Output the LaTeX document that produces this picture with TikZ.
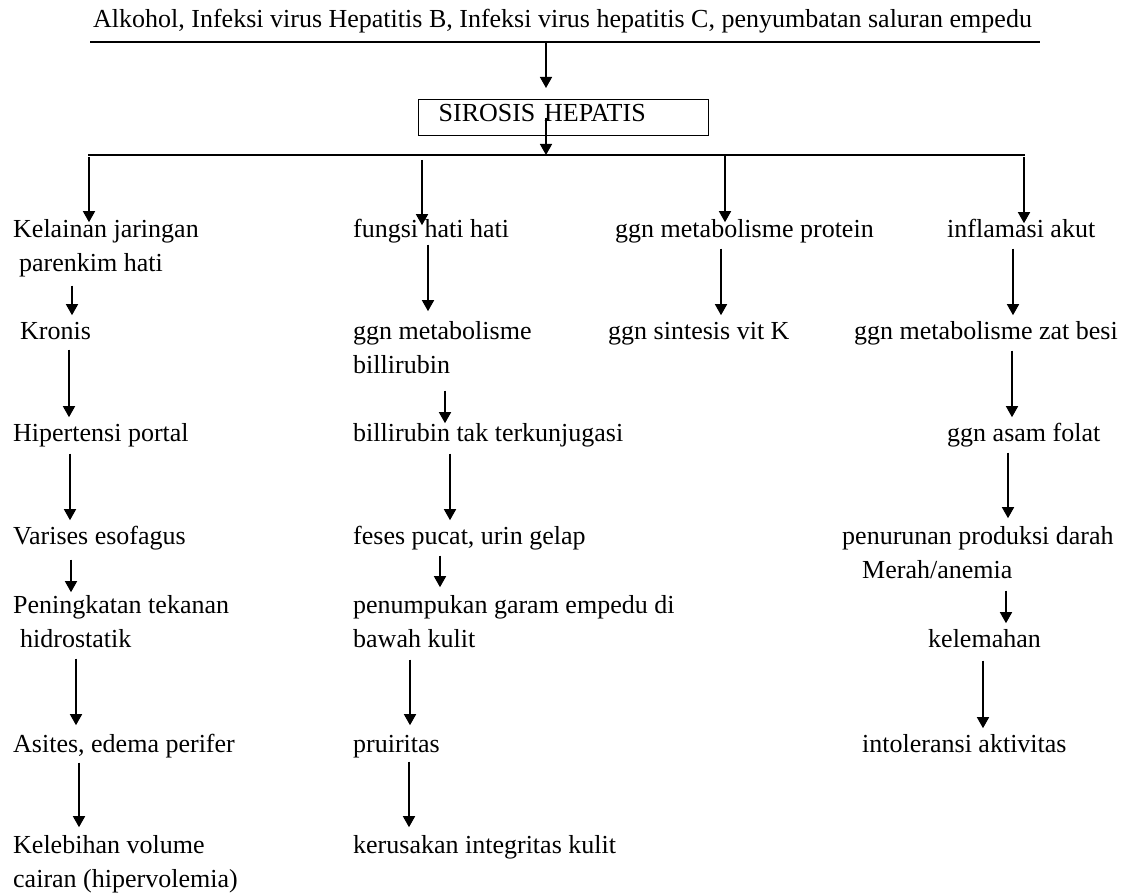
\documentclass[tikz,border=0pt]{standalone}
\usepackage{fontspec}
\setmainfont{Liberation Serif}
\usetikzlibrary{arrows.meta}

\begin{document}
\begin{tikzpicture}[x=1pt,y=-1pt,
    teks/.style={anchor=north west,yshift=23.8pt,inner sep=0pt,align=left,
      font=\fontsize{26}{34}\selectfont,execute at begin node=\strut,execute at end node=\strut},
    panah/.style={-{Triangle[length=11pt,width=12pt]},line width=1.5pt},
    garis/.style={line width=2pt}]
            \useasboundingbox (0,0) rectangle (1125,896);

            \node[teks] (sebab) at (93,27) {Alkohol, Infeksi virus Hepatitis B, Infeksi virus hepatitis C, penyumbatan saluran empedu};
            \coordinate (atasL) at (90,42);
            \coordinate (atasR) at (1040,42);
            \draw[garis] (atasL)--(atasR);

            \node[draw,line width=1.3pt,anchor=north west,minimum width=290pt,minimum height=36pt,
              text width=250pt,inner xsep=20pt,inner ysep=0pt,text height=16pt,text depth=8pt,
              align=left,font=\fontsize{26}{34}\selectfont] (sirosis) at (418,99) {SIROSIS HEPATIS};
            \draw[panah] (atasL -| 546,0)--([yshift=11pt]sirosis.north -| 546,0);

            \coordinate (bawahL) at (88,155);
            \coordinate (bawahR) at (1025,155);
            \draw[garis] (bawahL)--(bawahR);
            \draw[panah] (sirosis.center -| 546,0)--(bawahL -| 546,0);

            \node[teks] (k1) at (13,237) {\strut Kelainan jaringan\\\hspace*{6pt}parenkim hati\strut};
            \node[teks] (k2) at (20,339) {Kronis};
            \node[teks] (k3) at (13,441) {Hipertensi portal};
            \node[teks] (k4) at (13,544) {Varises esofagus};
            \node[teks] (k5) at (13,613) {\strut Peningkatan tekanan\\\hspace*{7pt}hidrostatik\strut};
            \node[teks] (k6) at (13,752) {Asites, edema perifer};
            \node[teks] (k7) at (13,853) {\strut Kelebihan volume\\cairan (hipervolemia)\strut};

            \node[teks] (f1) at (353,237) {fungsi hati hati};
            \node[teks] (f2) at (353,339) {\strut ggn metabolisme\\billirubin\strut};
            \node[teks] (f3) at (353,441) {billirubin tak terkunjugasi};
            \node[teks] (f4) at (353,544) {feses pucat, urin gelap};
            \node[teks] (f5) at (353,613) {\strut penumpukan garam empedu di\\bawah kulit\strut};
            \node[teks] (f6) at (353,752) {pruiritas};
            \node[teks] (f7) at (353,853) {kerusakan integritas kulit};

            \node[teks] (p1) at (615,237) {ggn metabolisme protein};
            \node[teks] (p2) at (608,339) {ggn sintesis vit K};

            \node[teks] (i1) at (947,237) {inflamasi akut};
            \node[teks] (i2) at (854,339) {ggn metabolisme zat besi};
            \node[teks] (i3) at (947,441) {ggn asam folat};
            \node[teks] (i4) at (842,544) {\strut penurunan produksi darah\\\hspace*{20pt}Merah/anemia\strut};
            \node[teks] (i5) at (928,647) {kelemahan};
            \node[teks] (i6) at (862,752) {intoleransi aktivitas};

            \draw[panah] ([yshift=-2pt]bawahL -| 89,0)--([yshift=-9pt]k1.north -| 89,0);
            \draw[panah] ([yshift=-5pt]bawahL -| 422,0)--([yshift=-12pt]f1.north -| 422,0);
            \draw[panah] (bawahL -| 725,0)--([yshift=-9pt]p1.north -| 725,0);
            \draw[panah] ([yshift=-2pt]bawahL -| 1024,0)--([yshift=-10pt]i1.north -| 1024,0);

            \draw[panah] ([yshift=-4pt]k1.south -| 72,0)--(k2.north -| 72,0);
            \draw[panah] (k2.south -| 69,0)--(k3.north -| 69,0);
            \draw[panah] ([yshift=-2pt]k3.south -| 70,0)--(k4.north -| 70,0);
            \draw[panah] ([yshift=-5pt]k4.south -| 71,0)--([yshift=-3pt]k5.north -| 71,0);
            \draw[panah] ([yshift=-1pt]k5.south -| 76,0)--([yshift=3pt]k6.north -| 76,0);
            \draw[panah] (k6.south -| 79,0)--([yshift=2pt]k7.north -| 79,0);

            \draw[panah] ([yshift=3pt]f1.south -| 428,0)--([yshift=4pt]f2.north -| 428,0);
            \draw[panah] ([yshift=-7pt]f2.south -| 445,0)--([yshift=-6pt]f3.north -| 445,0);
            \draw[panah] ([yshift=-2pt]f3.south -| 450,0)--(f4.north -| 450,0);
            \draw[panah] ([yshift=-1pt]f4.south -| 440,0)--([yshift=2pt]f5.north -| 440,0);
            \draw[panah] ([yshift=-2pt]f5.south -| 410,0)--([yshift=3pt]f6.north -| 410,0);
            \draw[panah] ([yshift=1pt]f6.south -| 409,0)--([yshift=2pt]f7.north -| 409,0);

            \draw[panah] ([yshift=-1pt]p1.south -| 721,0)--(p2.north -| 721,0);

            \draw[panah] ([yshift=-1pt]i1.south -| 1013,0)--(i2.north -| 1013,0);
            \draw[panah] ([yshift=-1pt]i2.south -| 1012,0)--(i3.north -| 1012,0);
            \draw[panah] ([yshift=-1pt]i3.south -| 1008,0)--([yshift=2pt]i4.north -| 1008,0);
            \draw[panah] ([yshift=-2pt]i4.south -| 1006,0)--(i5.north -| 1006,0);
            \draw[panah] ([yshift=-3pt]i5.south -| 983,0)--(i6.north -| 983,0);
        \end{tikzpicture}
\end{document}
